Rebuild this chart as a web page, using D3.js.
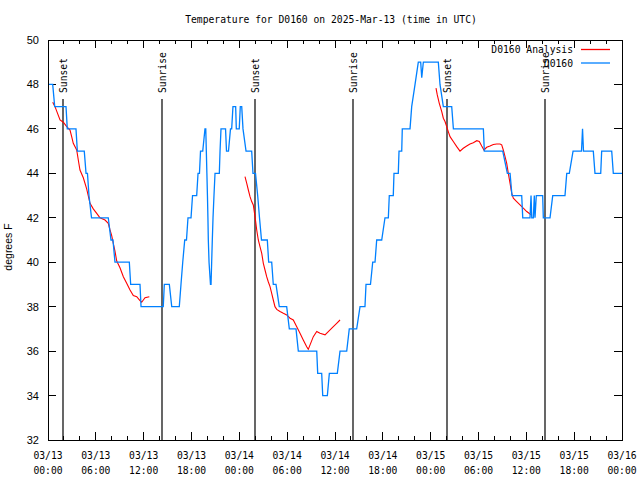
<!DOCTYPE html>
<html lang="en">
<head>
<meta charset="UTF-8">
<title>Temperature for D0160</title>
<script src="https://d3js.org/d3.v7.min.js"></script>
<style>
    body { margin: 0; background: #fff; }
    svg { display: block; }
    .mono { font-family: "DejaVu Sans Mono", monospace; font-size: 9.7px; }
    .sans { font-family: "Liberation Sans", Arial, sans-serif; }
</style>
</head>
<body>
<svg id="chart" width="640" height="480"></svg>
<script>
// observed temperature (hours after 2025-03-13 00:00 UTC, deg F)
var obsHours = [0, 0.59, 0.84, 2.26, 2.42, 3.51, 3.68, 4.55, 4.77, 4.95, 5.14, 5.46, 7.56, 7.90, 8.15, 8.40,
    10.20, 10.37, 11.54, 11.67, 14.46, 14.59, 15.22, 15.52, 16.47, 16.68, 16.90, 17.15, 17.37, 17.56, 17.94,
    18.13, 18.65, 18.82, 19.00, 19.13, 19.41, 19.69, 19.79, 19.86, 19.93, 20.00, 20.06, 20.11, 20.20, 20.38,
    20.45, 20.53, 20.61, 20.70, 20.82, 20.95, 21.49, 21.58, 21.70, 22.27, 22.39, 22.64, 22.89, 23.04, 23.20,
    23.54, 23.62, 23.99, 24.12, 24.30, 24.46, 24.84, 25.55, 25.71, 26.03, 26.30, 26.53, 26.78, 27.51, 27.68,
    28.06, 28.26, 28.60, 29.01, 29.94, 30.27, 31.11, 31.40, 33.71, 33.83, 34.33, 34.46, 35.04, 35.29, 36.29,
    36.63, 37.47, 37.79, 38.72, 39.14, 39.76, 39.89, 40.45, 40.73, 41.02, 41.23, 41.86, 42.27, 42.69, 42.81,
    43.31, 43.40, 43.94, 44.03, 44.37, 44.44, 45.41, 45.62, 46.04, 46.45, 46.75, 46.88, 47.08, 48.96, 49.17,
    49.59, 50.64, 50.85, 54.61, 54.73, 57.04, 57.62, 57.96, 58.20, 59.42, 59.55, 60.46, 60.59, 60.68, 60.88,
    61.00, 61.09, 61.25, 62.05, 62.13, 62.97, 63.31, 64.85, 65.07, 65.39, 65.86, 66.92, 67.05, 67.17, 68.40,
    68.61, 69.33, 69.45, 70.71, 70.91, 72];
var obsTemps = [48, 48, 47, 47, 46, 46, 45, 45, 44, 44, 43, 42, 42, 41, 41, 40,
    40, 39, 39, 38, 38, 39, 39, 38, 38, 39, 40, 41, 41, 42, 42,
    43, 43, 44, 44, 45, 45, 46, 46, 45, 44, 43, 42, 41, 40, 39,
    39, 40, 41, 42, 43, 44, 44, 45, 46, 46, 45, 45, 46, 46, 47,
    47, 46, 46, 47, 47, 46, 45, 45, 44, 44, 43, 42, 41, 41, 40,
    40, 39, 39, 38, 38, 37, 37, 36, 36, 35, 35, 34, 34, 35, 35,
    36, 36, 37, 37, 38, 38, 39, 39, 40, 40, 41, 41, 42, 42, 43,
    43, 44, 44, 45, 45, 46, 46, 47, 48, 49, 49, 48.3, 49, 49, 48,
    47, 47, 46, 46, 45, 45, 44, 44, 43, 43, 42, 42, 43, 42, 42,
    43, 42, 43, 43, 42, 42, 43, 43, 44, 44, 45, 45, 46, 45, 45,
    44, 44, 45, 45, 44, 44];

// analysis temperature, null marks a gap
var anaHours = [0.59, 0.88, 1.09, 1.51, 1.92, 2.35, 2.76, 2.97, 3.17, 3.60, 3.80, 4.01, 4.43, 4.85, 5.27, 5.68,
    6.11, 6.52, 7.15, 7.56, 7.78, 7.99, 8.19, 8.40, 8.62, 9.03, 9.45, 9.87, 10.29, 10.70, 11.13, 11.54, 11.75,
    12.17, 12.71, null,
    24.71, 24.93, 25.13, 25.34, 25.55, 25.75, 25.97, 26.18, 26.38, 26.59, 26.81, 27.01, 27.22, 27.43, 27.63,
    27.85, 28.06, 28.26, 28.47, 28.69, 29.10, 29.52, 29.94, 30.36, 30.77, 31.20, 31.61, 32.02, 32.45, 32.65,
    32.87, 33.28, 33.71, 34.12, 34.75, 35.16, 35.79, 36.21, 36.63, null,
    48.67, 48.83, 49.08, 49.39, 49.59, 49.80, 50.01, 50.21, 50.43, 50.84, 51.27, 51.68, 52.09, 52.52, 52.93,
    53.35, 53.78, 54.10, 54.40, 54.69, 55.03, 55.44, 55.86, 56.28, 56.70, 56.91, 57.11, 57.33, 57.54, 57.74,
    57.96, 58.17, 58.37, 58.79, 59.21, 59.62, 60.05, 60.46, 60.68];
var anaTemps = [47.2, 47.0, 46.8, 46.4, 46.3, 46.1, 45.95, 45.65, 45.35, 45.05, 44.6, 44.15, 43.8, 43.3, 42.65, 42.4,
    42.2, 42.0, 41.9, 41.75, 41.45, 41.2, 40.85, 40.5, 40.05, 39.75, 39.35, 39.05, 38.75, 38.5, 38.45, 38.27, 38.2,
    38.4, 38.45, null,
    43.85, 43.55, 43.25, 42.95, 42.73, 42.58, 42.05, 41.45, 41.0, 40.7, 40.4, 39.95, 39.65, 39.35, 39.12,
    38.9, 38.6, 38.3, 38.0, 37.88, 37.78, 37.7, 37.63, 37.48, 37.4, 37.1, 36.8, 36.5, 36.2, 36.08,
    36.28, 36.65, 36.88, 36.8, 36.73, 36.88, 37.1, 37.25, 37.4, null,
    47.83, 47.53, 47.15, 46.78, 46.48, 46.33, 46.1, 45.88, 45.65, 45.43, 45.2, 45.0, 45.13, 45.23, 45.32,
    45.38, 45.47, 45.43, 45.23, 45.05, 45.17, 45.23, 45.3, 45.32, 45.32, 45.28, 45.05, 44.75, 44.45, 44.0,
    43.55, 43.1, 42.88, 42.73, 42.58, 42.43, 42.28, 42.17, 42.13];

var sunTimes = ["2025-03-13T01:53Z", "2025-03-13T14:18Z", "2025-03-14T01:58Z",
                "2025-03-14T14:16Z", "2025-03-15T02:03Z", "2025-03-15T14:20Z"];
var sunLabels = ["Sunset", "Sunrise", "Sunset", "Sunrise", "Sunset", "Sunrise"];

var yTicks = [32, 34, 36, 38, 40, 42, 44, 46, 48, 50];

var start = new Date("2025-03-13T00:00Z");
var end = new Date("2025-03-16T00:00Z");
function hourDate(h) { return new Date(start.getTime() + h * 3600e3); }

var plotL = 48, plotR = 622, plotT = 40, plotB = 440;
var svg = d3.select("#chart");

var x = d3.scaleUtc().domain([start, end]).range([plotL, plotR]);
var y = d3.scaleLinear().domain([32, 50]).range([plotB, plotT]);

var major = d3.utcHour.every(6).range(start, new Date(end.getTime() + 60000));
var minor = d3.utcHour.every(2).range(start, end).filter(d => d.getUTCHours() % 6 != 0);

// ticks (inward, mirrored)
var tk = svg.append("g").attr("stroke", "#000").attr("stroke-width", 1).attr("shape-rendering", "crispEdges");
major.forEach(function(d) {
    tk.append("line").attr("x1", x(d)).attr("x2", x(d)).attr("y1", plotB).attr("y2", plotB - 8);
    tk.append("line").attr("x1", x(d)).attr("x2", x(d)).attr("y1", plotT).attr("y2", plotT + 8);
});
minor.forEach(function(d) {
    tk.append("line").attr("x1", x(d)).attr("x2", x(d)).attr("y1", plotB).attr("y2", plotB - 4);
    tk.append("line").attr("x1", x(d)).attr("x2", x(d)).attr("y1", plotT).attr("y2", plotT + 4);
});
yTicks.forEach(function(v) {
    tk.append("line").attr("x1", plotL).attr("x2", plotL + 8).attr("y1", y(v)).attr("y2", y(v));
    tk.append("line").attr("x1", plotR).attr("x2", plotR - 8).attr("y1", y(v)).attr("y2", y(v));
});

// tick labels
var fmtDay = d3.utcFormat("%m/%d"), fmtHour = d3.utcFormat("%H:%M");
var xl = svg.append("g").attr("class", "mono").attr("text-anchor", "middle").attr("fill", "#000");
major.forEach(function(d) {
    xl.append("text").attr("x", x(d)).attr("y", 459).text(fmtDay(d));
    xl.append("text").attr("x", x(d)).attr("y", 474).text(fmtHour(d));
});
svg.append("g").attr("class", "sans").attr("font-size", "11px").attr("text-anchor", "end")
    .selectAll("text").data(yTicks).join("text")
    .attr("x", 39).attr("y", d => y(d) + 4).text(d => d);

// sunrise / sunset markers
sunTimes.forEach(function(t, i) {
    var sx = Math.round(x(new Date(t)));
    svg.append("line").attr("x1", sx).attr("x2", sx).attr("y1", 99).attr("y2", plotB)
        .attr("stroke", "#000").attr("stroke-width", 1.2);
    svg.append("text").attr("class", "mono")
        .attr("transform", "translate(" + (sx + 3.5) + ",93) rotate(-90)")
        .text(sunLabels[i]);
});

// data lines
var obs = obsHours.map((h, i) => ({ t: hourDate(h), v: obsTemps[i] }));
var ana = anaHours.map((h, i) => ({ t: h == null ? null : hourDate(h), v: anaTemps[i] }));

var line = d3.line().defined(d => d.t != null).x(d => x(d.t)).y(d => y(d.v));

svg.append("path").datum(ana).attr("d", line)
    .attr("fill", "none").attr("stroke", "#ff0000").attr("stroke-width", 1.1);
svg.append("path").datum(obs).attr("d", line)
    .attr("fill", "none").attr("stroke", "#0080ff").attr("stroke-width", 1.3)
    .attr("stroke-linejoin", "miter");

// frame
svg.append("rect").attr("x", plotL).attr("y", plotT).attr("width", plotR - plotL).attr("height", plotB - plotT)
    .attr("fill", "none").attr("stroke", "#000").attr("shape-rendering", "crispEdges");

// legend
var legend = [["D0160 Analysis", "#ff0000", 49.5], ["D0160", "#0080ff", 63]];
legend.forEach(function(l) {
    svg.append("text").attr("class", "mono").attr("x", 573).attr("y", l[2] + 3.5)
        .attr("text-anchor", "end").text(l[0]);
    svg.append("line").attr("x1", 581).attr("x2", 610).attr("y1", l[2]).attr("y2", l[2])
        .attr("stroke", l[1]).attr("stroke-width", 1.3);
});

// titles
svg.append("text").attr("class", "mono").attr("x", 331).attr("y", 23).attr("text-anchor", "middle")
    .text("Temperature for D0160 on 2025-Mar-13 (time in UTC)");
svg.append("text").attr("class", "sans").attr("font-size", "10.5px").attr("text-anchor", "middle")
    .attr("transform", "translate(12,247) rotate(-90)").text("degrees F");
</script>
</body>
</html>
